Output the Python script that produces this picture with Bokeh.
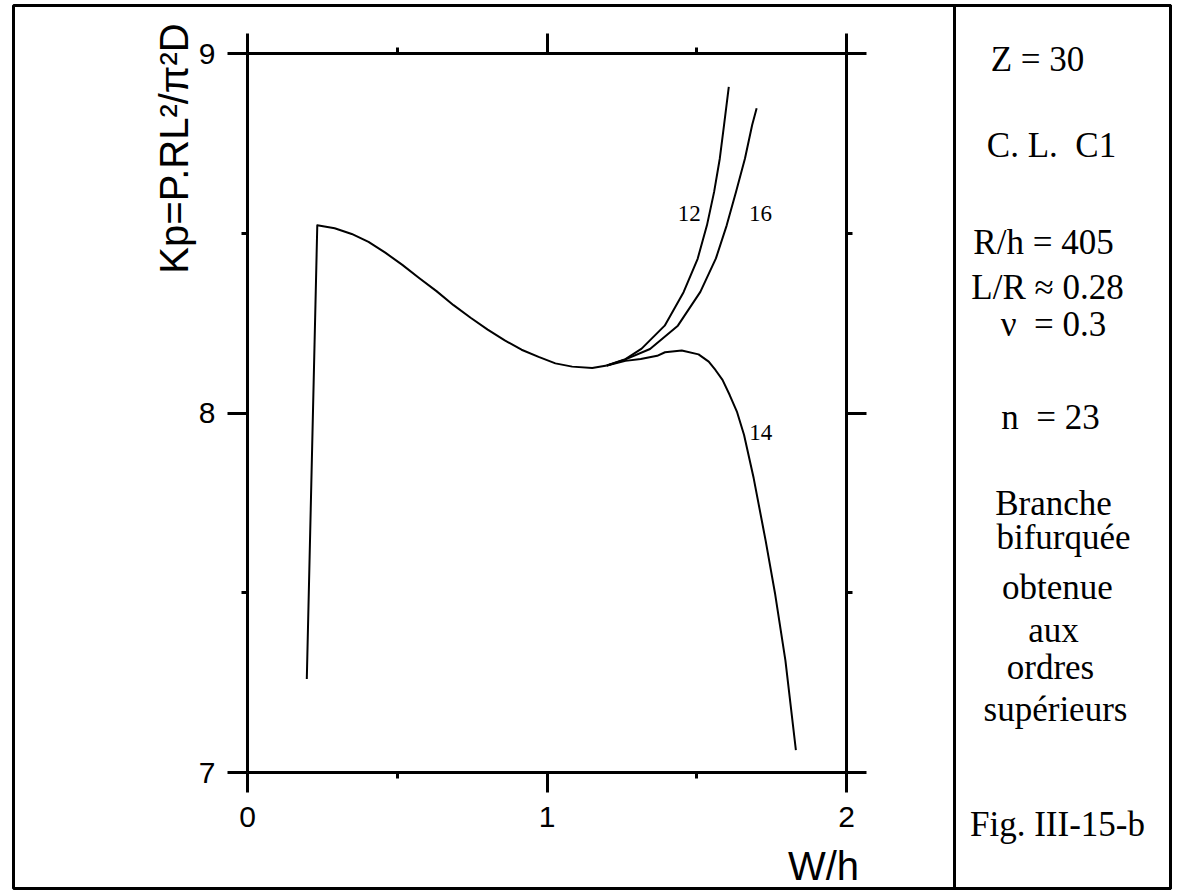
import math
from bokeh.plotting import figure
from bokeh.models import Range1d, LinearAxis, FixedTicker, Label, BoxAnnotation
from bokeh.embed import file_html
from bokeh.resources import INLINE
from bokeh.core.properties import value

# ---------------- data ----------------
# common (fundamental) branch: W/h vs Kp
w_common = [0.198, 0.233, 0.291, 0.348, 0.404, 0.460, 0.517, 0.574, 0.631, 0.688,
            0.745, 0.802, 0.859, 0.915, 0.972, 1.028, 1.084, 1.151, 1.200]
kp_common = [7.260, 8.522, 8.514, 8.498, 8.476, 8.446, 8.412, 8.375, 8.339, 8.300,
             8.265, 8.232, 8.202, 8.176, 8.156, 8.138, 8.129, 8.125, 8.132]

# bifurcated branch, order 12
w_12 = [1.200, 1.262, 1.316, 1.393, 1.456, 1.503, 1.534, 1.558, 1.577, 1.591, 1.607]
kp_12 = [8.132, 8.150, 8.179, 8.243, 8.336, 8.429, 8.522, 8.615, 8.708, 8.800, 8.907]

# order 16
w_16 = [1.200, 1.262, 1.344, 1.437, 1.512, 1.564, 1.600, 1.631, 1.661, 1.685, 1.700]
kp_16 = [8.132, 8.149, 8.178, 8.243, 8.337, 8.430, 8.522, 8.615, 8.708, 8.801, 8.848]

# order 14
w_14 = [1.200, 1.262, 1.313, 1.368, 1.394, 1.450, 1.506, 1.540, 1.563, 1.586,
        1.610, 1.634, 1.658, 1.690, 1.730, 1.762, 1.796, 1.831]
kp_14 = [8.132, 8.145, 8.150, 8.159, 8.169, 8.174, 8.163, 8.143, 8.119, 8.092,
         8.050, 8.004, 7.939, 7.819, 7.645, 7.495, 7.312, 7.062]

branch_labels = ["12", "14", "16"]
branch_label_w = [1.475, 1.714, 1.713]
branch_label_kp = [8.554, 7.945, 8.556]

x_ticks = [0, 1, 2]
x_minor_ticks = [0.5, 1.5]
y_ticks = [7, 8, 9]
y_minor_ticks = [7.5, 8.5]

x_title = "W/h"
y_title = "Kp=P.RL²/π²D"

NBSP = "\u00a0"
panel_lines = ["Z = 30", f"C. L.{NBSP} C1", "R/h = 405", "L/R ≈ 0.28", f"ν{NBSP} = 0.3",
               f"n{NBSP} = 23", "Branche", "bifurquée", "obtenue", "aux", "ordres",
               "supérieurs", "Fig. III-15-b"]

# ---------------- layout (canvas pixels) ----------------
W, H = 1186, 890
BOX_L, BOX_R, BOX_T, BOX_B = 247, 846, 53, 772   # where the axes box sits
OUT_L, OUT_R, OUT_T, OUT_B, DIVIDER = 13, 1170, 5, 888, 954
PANEL_FS = 35
panel_x = [1037, 1051, 1043, 1047, 1053, 1050, 1053, 1063, 1057, 1053, 1050, 1055, 1057]
panel_baseline = [72, 158, 255, 300, 337, 430, 516, 550, 600, 643, 680, 722, 837]
BASE_SHIFT = 0.36   # Label places the alphabetic baseline ~0.36em below its y

SANS = "Liberation Sans"
SERIF = "Liberation Serif"

# the frame covers the whole canvas; the axes are pinned around the data box
xpx = (BOX_R - BOX_L) / (x_ticks[-1] - x_ticks[0])
ypx = (BOX_B - BOX_T) / (y_ticks[-1] - y_ticks[0])
x_range = Range1d(x_ticks[0] - BOX_L / xpx, x_ticks[-1] + (W - BOX_R) / xpx)
y_range = Range1d(y_ticks[0] - (H - BOX_B) / ypx, y_ticks[-1] + BOX_T / ypx)

p = figure(width=W, height=H, x_range=x_range, y_range=y_range,
           output_backend="svg", toolbar_location=None, title=None,
           x_axis_location=None, y_axis_location=None, min_border=0)
p.grid.visible = False
p.outline_line_color = None
p.background_fill_color = "white"
p.border_fill_color = "white"


def styled_axis(ticks, minor, loc, labels):
    ax = LinearAxis(ticker=FixedTicker(ticks=ticks, minor_ticks=minor),
                    fixed_location=loc, bounds=(ticks[0], ticks[-1]))
    ax.axis_line_color = "black"
    ax.axis_line_width = 3
    ax.major_tick_line_color = "black"
    ax.major_tick_line_width = 3
    ax.minor_tick_line_color = "black"
    ax.minor_tick_line_width = 3
    ax.major_tick_in = 0
    ax.major_tick_out = 20
    ax.minor_tick_in = 0
    ax.minor_tick_out = 6
    ax.major_label_text_font = SANS
    ax.major_label_text_font_size = "30px"
    ax.major_label_text_color = "black"
    if not labels:
        ax.major_label_overrides = {t: "" for t in ticks}
        ax.major_label_standoff = 0
        ax.major_label_text_font_size = "1px"
    return ax


bottom = styled_axis(x_ticks, x_minor_ticks, y_ticks[0], True)
bottom.major_label_standoff = 14
p.add_layout(bottom, "below")
left = styled_axis(y_ticks, y_minor_ticks, x_ticks[0], True)
left.major_label_standoff = 12
p.add_layout(left, "left")
p.add_layout(styled_axis(x_ticks, x_minor_ticks, y_ticks[-1], False), "above")
p.add_layout(styled_axis(y_ticks, y_minor_ticks, x_ticks[-1], False), "right")

# curves
for xs, ys in [(w_common, kp_common), (w_12, kp_12), (w_16, kp_16), (w_14, kp_14)]:
    p.line(xs, ys, line_color="black", line_width=2, line_join="round")

p.text(x=branch_label_w, y=branch_label_kp, text=branch_labels,
       text_font=value(SERIF), text_font_size="23px", text_color="black",
       text_align="center", text_baseline="middle")

# axis titles
p.add_layout(Label(x=173, y=148, x_units="canvas", y_units="canvas", text=y_title,
                   angle=math.pi / 2, text_align="center", text_baseline="alphabetic",
                   text_font=SANS, text_font_size="40px", text_color="black"))
p.add_layout(Label(x=823, y=880 - BASE_SHIFT * 40, x_units="canvas", y_units="canvas",
                   text=x_title, text_align="center", text_baseline="alphabetic",
                   text_font=SANS, text_font_size="40px", text_color="black"))

# outer frame and side panel
for lft in (OUT_L, DIVIDER):
    p.add_layout(BoxAnnotation(left=lft, right=OUT_R, top=OUT_T, bottom=OUT_B,
                               left_units="canvas", right_units="canvas",
                               top_units="canvas", bottom_units="canvas",
                               fill_alpha=0, line_color="black", line_alpha=1.0,
                               line_width=3))

for txt, cx, by in zip(panel_lines, panel_x, panel_baseline):
    p.add_layout(Label(x=cx, y=by - BASE_SHIFT * PANEL_FS, x_units="canvas",
                       y_units="canvas", text=txt,
                       text_align="center", text_baseline="alphabetic",
                       text_font=SERIF, text_font_size=f"{PANEL_FS}px",
                       text_color="black"))

open("out.html", "w").write(file_html(p, INLINE))
